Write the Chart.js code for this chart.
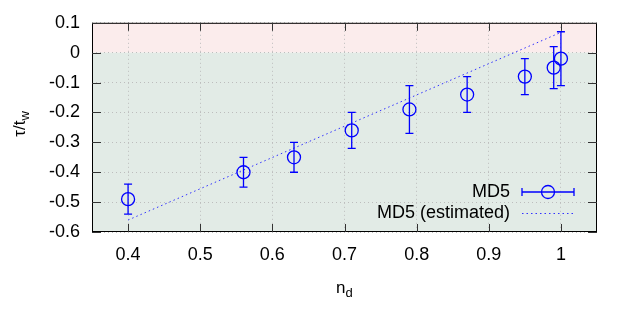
<!DOCTYPE html>
<html>
<head>
<meta charset="utf-8">
<script src="https://cdn.jsdelivr.net/npm/chart.js@4/dist/chart.umd.min.js"></script>
<style>
  body { margin: 0; background: #fff; }
  canvas { display: block; }
</style>
</head>
<body>
<canvas id="chart" width="640" height="320"></canvas>
<script>
// MD5 measurements (n_d vs tau/t_w) with error bars
const nd = [0.40, 0.56, 0.63, 0.71, 0.79, 0.87, 0.95, 0.99, 1.00];
const tau = [-0.49, -0.40, -0.35, -0.26, -0.19, -0.14, -0.08, -0.05, -0.02];
const tauLow = [-0.54, -0.45, -0.40, -0.32, -0.27, -0.20, -0.14, -0.12, -0.11];
const tauHigh = [-0.44, -0.35, -0.30, -0.20, -0.11, -0.08, -0.02, 0.02, 0.07];

// estimated line
const estX = [0.40, 1.00];
const estY = [-0.56, 0.068];

// axis ticks
const xTicks = [0.4, 0.5, 0.6, 0.7, 0.8, 0.9, 1.0];
const yTicks = [0.1, 0, -0.1, -0.2, -0.3, -0.4, -0.5, -0.6];

const FONT = '"Liberation Sans", Arial, sans-serif';
const BLUE = '#0000ff';

// pink above zero, grey-green below
const bgPlugin = {
    id: 'bg',
    beforeDraw(chart) {
        const { ctx, chartArea: a, scales } = chart;
        const y0 = scales.y.getPixelForValue(0);
        ctx.save();
        ctx.fillStyle = '#fbecec';
        ctx.fillRect(a.left, a.top, a.right - a.left, y0 - a.top);
        ctx.fillStyle = '#e2ebe6';
        ctx.fillRect(a.left, y0, a.right - a.left, a.bottom - y0);
        ctx.restore();
    }
};

// error bars, frame, inward ticks, titles, legend
const extrasPlugin = {
    id: 'extras',
    afterDatasetsDraw(chart) {
        const { ctx, chartArea: a, scales } = chart;
        const xs = scales.x, ys = scales.y;
        ctx.save();

        // error bars
        ctx.strokeStyle = BLUE;
        ctx.lineWidth = 1.3;
        nd.forEach((v, i) => {
            const px = xs.getPixelForValue(v);
            const lo = ys.getPixelForValue(tauLow[i]);
            const hi = ys.getPixelForValue(tauHigh[i]);
            ctx.beginPath();
            ctx.moveTo(px, lo); ctx.lineTo(px, hi);
            ctx.moveTo(px - 4, lo); ctx.lineTo(px + 4, lo);
            ctx.moveTo(px - 4, hi); ctx.lineTo(px + 4, hi);
            ctx.stroke();
        });

        // frame
        ctx.strokeStyle = '#000';
        ctx.lineWidth = 1;
        ctx.strokeRect(a.left + 0.5, a.top + 0.5, a.right - a.left - 1, a.bottom - a.top - 1);

        // inward ticks on all sides
        ctx.strokeStyle = '#333';
        ctx.beginPath();
        xTicks.forEach(v => {
            const px = Math.round(xs.getPixelForValue(v)) + 0.5;
            ctx.moveTo(px, a.bottom); ctx.lineTo(px, a.bottom - 8);
            ctx.moveTo(px, a.top); ctx.lineTo(px, a.top + 8);
        });
        yTicks.forEach(v => {
            const py = Math.round(ys.getPixelForValue(v)) + 0.5;
            ctx.moveTo(a.left, py); ctx.lineTo(a.left + 9, py);
            ctx.moveTo(a.right, py); ctx.lineTo(a.right - 9, py);
        });
        ctx.stroke();

        // axis titles
        ctx.fillStyle = '#000';
        ctx.textBaseline = 'alphabetic';
        ctx.textAlign = 'left';
        ctx.font = '17px ' + FONT;
        const nW = ctx.measureText('n').width;
        ctx.fillText('n', 336, 293);
        ctx.font = '13px ' + FONT;
        ctx.fillText('d', 336 + nW, 297);

        ctx.save();
        ctx.translate(25, 124);
        ctx.rotate(-Math.PI / 2);
        ctx.font = '17px ' + FONT;
        const mainW = ctx.measureText('τ/t').width;
        ctx.font = '13px ' + FONT;
        const subW = ctx.measureText('w').width;
        const start = -(mainW + subW) / 2;
        ctx.font = '17px ' + FONT;
        ctx.fillText('τ/t', start, 0);
        ctx.font = '13px ' + FONT;
        ctx.fillText('w', start + mainW, 4);
        ctx.restore();

        // legend
        ctx.font = '18px ' + FONT;
        ctx.textAlign = 'right';
        ctx.textBaseline = 'middle';
        ctx.fillText('MD5', 510, 192);
        ctx.fillText('MD5 (estimated)', 510, 213);

        ctx.strokeStyle = BLUE;
        ctx.lineWidth = 1.3;
        ctx.beginPath();
        ctx.moveTo(522, 192); ctx.lineTo(574, 192);
        ctx.moveTo(522, 188); ctx.lineTo(522, 196);
        ctx.moveTo(574, 188); ctx.lineTo(574, 196);
        ctx.stroke();
        ctx.beginPath();
        ctx.arc(548, 192, 6.5, 0, Math.PI * 2);
        ctx.stroke();

        ctx.strokeStyle = 'rgb(50,50,255)';
        ctx.lineWidth = 1;
        ctx.setLineDash([1.5, 3]);
        ctx.beginPath();
        ctx.moveTo(522, 213.5); ctx.lineTo(574, 213.5);
        ctx.stroke();

        ctx.restore();
    }
};

new Chart(document.getElementById('chart'), {
    type: 'scatter',
    data: {
        datasets: [
            {
                label: 'MD5',
                data: nd.map((v, i) => ({ x: v, y: tau[i] })),
                pointStyle: 'circle',
                pointRadius: 6.5,
                pointHoverRadius: 6.5,
                borderColor: BLUE,
                borderWidth: 1.3,
                backgroundColor: 'rgba(0,0,0,0)',
                showLine: false
            },
            {
                label: 'MD5 (estimated)',
                type: 'line',
                data: estX.map((v, i) => ({ x: v, y: estY[i] })),
                borderColor: 'rgb(50,50,255)',
                borderWidth: 1,
                borderDash: [1.5, 3],
                pointRadius: 0,
                fill: false
            }
        ]
    },
    options: {
        responsive: false,
        animation: false,
        layout: { padding: { top: 22, right: 43, left: 0, bottom: 0 } },
        plugins: {
            legend: { display: false },
            tooltip: { enabled: false }
        },
        scales: {
            x: {
                type: 'linear',
                min: 0.35,
                max: 1.05,
                afterBuildTicks: s => { s.ticks = xTicks.map(v => ({ value: v })); },
                afterFit: s => { s.height = 88; },
                grid: { color: '#bdbdbd', drawTicks: false, lineWidth: 1 },
                border: { display: false, dash: [1, 3] },
                ticks: {
                    color: '#000',
                    padding: 12,
                    font: { family: FONT, size: 18 },
                    callback: v => String(Math.round(v * 10) / 10)
                }
            },
            y: {
                type: 'linear',
                min: -0.6,
                max: 0.1,
                afterBuildTicks: s => { s.ticks = yTicks.map(v => ({ value: v })); },
                afterFit: s => { s.width = 92; },
                grid: { color: '#bdbdbd', drawTicks: false, lineWidth: 1 },
                border: { display: false, dash: [1, 3] },
                ticks: {
                    color: '#000',
                    padding: 12,
                    font: { family: FONT, size: 18 },
                    callback: v => String(Math.round(v * 10) / 10)
                }
            }
        }
    },
    plugins: [bgPlugin, extrasPlugin]
});
</script>
</body>
</html>
